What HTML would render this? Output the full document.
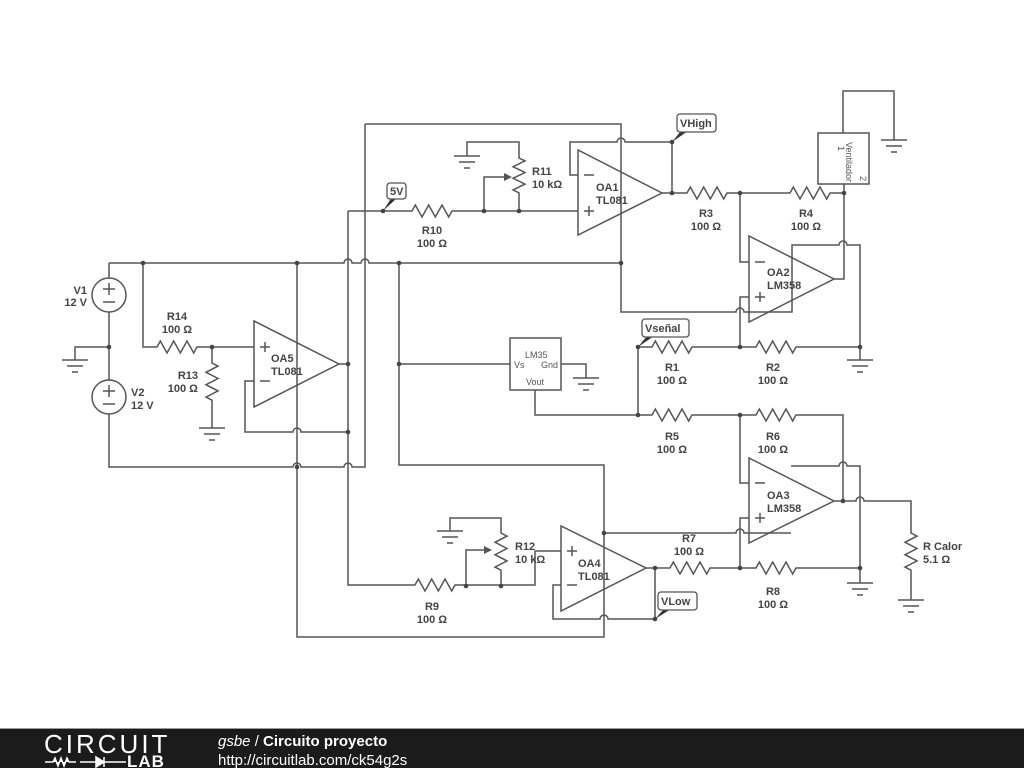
<!DOCTYPE html>
<html><head><meta charset="utf-8"><style>
body{margin:0;width:1024px;height:768px;overflow:hidden;background:#fff}
svg{display:block}
.w{fill:none;stroke:#555;stroke-width:1.5;stroke-linejoin:miter}
text{font-family:"Liberation Sans",sans-serif;font-size:11px;font-weight:bold;fill:#444}
.s{font-weight:normal;font-size:9px;fill:#555}
</style></head><body>
<svg width="1024" height="768" viewBox="0 0 1024 768">
<defs>
<g id="gnd"><path class="w" d="M-13 0H13M-8 6H8M-3 12H3"/></g>
</defs>
<g class="w">
<path d="M365 124H621V312H736a4 4 0 0 1 8 0H792V245H839a4 4 0 0 1 8 0H860V360"/>
<path d="M109 263H344a4 4 0 0 1 8 0H361a4 4 0 0 1 8 0H621"/>
<path d="M109 263V278M109 312V380M109 414V467H293a4 4 0 0 1 8 0H344a4 4 0 0 1 8 0H365V124"/>
<circle cx="109" cy="295" r="17"/><circle cx="109" cy="397" r="17"/>
<path d="M103 289h12M109 283v12M103 302h12M103 391h12M109 385v12M103 404h12"/>
<path d="M109 347H75V360"/>
<path d="M143 263V347H157l3.33 -6 l6.67 12 l6.67 -12 l6.67 12 l6.67 -12 l6.67 12 l3.33 -6H254"/>
<path d="M212 347V363l6 3.1 l-12 6.2 l12 6.2 l-12 6.2 l12 6.2 l-12 6.2 l6 3.1V428"/>
<path d="M254 321L254 407L339 364Z"/>
<path d="M260 347h10M265 342v10M260 381h10"/>
<path d="M254 381H245V432H293a4 4 0 0 1 8 0H348M339 364H348"/>
<path d="M348 211V585H415l3.33 -6 l6.67 12 l6.67 -12 l6.67 12 l6.67 -12 l6.67 12 l3.33 -6H535V551H561"/>
<path d="M348 211H412l3.33 -6 l6.67 12 l6.67 -12 l6.67 12 l6.67 -12 l6.67 12 l3.33 -6H578"/>
<path d="M297 263V637H604V465H399V263M399 364H510"/>
<path d="M467 156V142H519V158l6 2.9 l-12 5.8 l12 5.8 l-12 5.8 l12 5.8 l-12 5.8 l6 2.9V211"/>
<path d="M484 211V177H510"/>
<path d="M578 150L578 235L662 193Z"/>
<path d="M584 175h10M584 211h10M589 206v10"/>
<path d="M578 175H570V142H617a4 4 0 0 1 8 0H672V193"/>
<path d="M662 193H687l3.33 -6 l6.67 12 l6.67 -12 l6.67 12 l6.67 -12 l6.67 12 l3.33 -6H790l3.33 -6 l6.67 12 l6.67 -12 l6.67 12 l6.67 -12 l6.67 12 l3.33 -6H844V279H834M844 193V184"/>
<rect x="818" y="133" width="51" height="51"/>
<path d="M843 133V91H894V140"/>
<path d="M749 236L749 322L834 279Z"/>
<path d="M755 262h10M755 297h10M760 292v10"/>
<path d="M740 193V262H749M749 297H740V347"/>
<path d="M638 415V347H652l3.33 -6 l6.67 12 l6.67 -12 l6.67 12 l6.67 -12 l6.67 12 l3.33 -6H756l3.33 -6 l6.67 12 l6.67 -12 l6.67 12 l6.67 -12 l6.67 12 l3.33 -6H860"/>
<rect x="510" y="338" width="51" height="52"/>
<path d="M561 364H586V378"/>
<path d="M535 390V415H652l3.33 -6 l6.67 12 l6.67 -12 l6.67 12 l6.67 -12 l6.67 12 l3.33 -6H756l3.33 -6 l6.67 12 l6.67 -12 l6.67 12 l6.67 -12 l6.67 12 l3.33 -6H843V501"/>
<path d="M749 458L749 543L834 501Z"/>
<path d="M755 483h10M755 518h10M760 513v10"/>
<path d="M740 415V483H749M749 518H740V568"/>
<path d="M834 501H856a4 4 0 0 1 8 0H911V533l6 3.1 l-12 6.2 l12 6.2 l-12 6.2 l12 6.2 l-12 6.2 l6 3.1V600"/>
<path d="M791 466H839a4 4 0 0 1 8 0H860V583"/>
<path d="M604 533H736a4 4 0 0 1 8 0H791"/>
<path d="M561 526L561 611L646 568Z"/>
<path d="M567 551h10M572 546v10M567 585h10"/>
<path d="M646 568H670l3.33 -6 l6.67 12 l6.67 -12 l6.67 12 l6.67 -12 l6.67 12 l3.33 -6H756l3.33 -6 l6.67 12 l6.67 -12 l6.67 12 l6.67 -12 l6.67 12 l3.33 -6H860"/>
<path d="M561 585H553V619H600a4 4 0 0 1 8 0H655V568"/>
<path d="M450 531V518H501V533l6 3.1 l-12 6.2 l12 6.2 l-12 6.2 l12 6.2 l-12 6.2 l6 3.1V586"/>
<path d="M466 586V550H488"/>
</g>
<path d="M512 177l-8-4v8z" fill="#555"/>
<path d="M492 550l-8-4v8z" fill="#555"/>
<g fill="#444">
<circle cx="143" cy="263" r="2.3"/><circle cx="297" cy="263" r="2.3"/><circle cx="399" cy="263" r="2.3"/><circle cx="621" cy="263" r="2.3"/>
<circle cx="109" cy="347" r="2.3"/><circle cx="212" cy="347" r="2.3"/><circle cx="348" cy="364" r="2.3"/><circle cx="399" cy="364" r="2.3"/>
<circle cx="348" cy="432" r="2.3"/><circle cx="297" cy="467" r="2.3"/><circle cx="383" cy="211" r="2.3"/><circle cx="484" cy="211" r="2.3"/><circle cx="519" cy="211" r="2.3"/>
<circle cx="672" cy="142" r="2.3"/><circle cx="672" cy="193" r="2.3"/><circle cx="740" cy="193" r="2.3"/><circle cx="844" cy="193" r="2.3"/>
<circle cx="638" cy="347" r="2.3"/><circle cx="740" cy="347" r="2.3"/><circle cx="860" cy="347" r="2.3"/>
<circle cx="638" cy="415" r="2.3"/><circle cx="740" cy="415" r="2.3"/><circle cx="843" cy="501" r="2.3"/>
<circle cx="604" cy="533" r="2.3"/><circle cx="655" cy="568" r="2.3"/><circle cx="740" cy="568" r="2.3"/><circle cx="860" cy="568" r="2.3"/>
<circle cx="655" cy="619" r="2.3"/><circle cx="466" cy="586" r="2.3"/><circle cx="501" cy="586" r="2.3"/>
</g>
<use href="#gnd" x="75" y="360"/><use href="#gnd" x="212" y="428"/><use href="#gnd" x="467" y="156"/>
<use href="#gnd" x="894" y="140"/><use href="#gnd" x="860" y="360"/><use href="#gnd" x="586" y="378"/>
<use href="#gnd" x="860" y="583"/><use href="#gnd" x="911" y="600"/><use href="#gnd" x="450" y="531"/>
<g fill="#333">
<path d="M383 211L392 197L398 197Z"/><path d="M672 142L681 131L688 131Z"/>
<path d="M638 347L647 336L654 336Z"/><path d="M655 619L664 609L671 609Z"/>
</g>
<g fill="#fff" stroke="#555" stroke-width="1.3">
<rect x="387" y="183" width="19" height="16" rx="3"/><rect x="677" y="114" width="39" height="18" rx="3"/>
<rect x="642" y="319" width="47" height="18" rx="3"/><rect x="658" y="592" width="39" height="18" rx="3"/>
</g>
<text x="390" y="195">5V</text><text x="680" y="127">VHigh</text><text x="645" y="332">Vseñal</text><text x="661" y="605">VLow</text>
<g text-anchor="end"><text x="87" y="294">V1</text><text x="87" y="306">12 V</text>
<text x="198" y="379">R13</text><text x="198" y="392">100 Ω</text></g>
<text x="131" y="396">V2</text><text x="131" y="409">12 V</text>
<g text-anchor="middle">
<text x="177" y="320">R14</text><text x="177" y="333">100 Ω</text>
<text x="432" y="234">R10</text><text x="432" y="247">100 Ω</text>
<text x="706" y="217">R3</text><text x="706" y="230">100 Ω</text>
<text x="806" y="217">R4</text><text x="806" y="230">100 Ω</text>
<text x="672" y="371">R1</text><text x="672" y="384">100 Ω</text>
<text x="773" y="371">R2</text><text x="773" y="384">100 Ω</text>
<text x="672" y="440">R5</text><text x="672" y="453">100 Ω</text>
<text x="773" y="440">R6</text><text x="773" y="453">100 Ω</text>
<text x="689" y="542">R7</text><text x="689" y="555">100 Ω</text>
<text x="773" y="595">R8</text><text x="773" y="608">100 Ω</text>
<text x="432" y="610">R9</text><text x="432" y="623">100 Ω</text>
</g>
<text x="532" y="175">R11</text><text x="532" y="188">10 kΩ</text>
<text x="515" y="550">R12</text><text x="515" y="563">10 kΩ</text>
<text x="923" y="550">R Calor</text><text x="923" y="563">5.1 Ω</text>
<text x="596" y="191">OA1</text><text x="596" y="204">TL081</text>
<text x="767" y="276">OA2</text><text x="767" y="289">LM358</text>
<text x="767" y="499">OA3</text><text x="767" y="512">LM358</text>
<text x="578" y="567">OA4</text><text x="578" y="580">TL081</text>
<text x="271" y="362">OA5</text><text x="271" y="375">TL081</text>
<text class="s" x="525" y="358">LM35</text><text class="s" x="514" y="368">Vs</text><text class="s" x="541" y="368">Gnd</text><text class="s" x="526" y="385">Vout</text>
<text class="s" x="846" y="142" transform="rotate(90 846 142)">Ventilador</text>
<text class="s" x="838" y="146" transform="rotate(90 838 146)">1</text>
<text class="s" x="860" y="176" transform="rotate(90 860 176)">2</text>
<rect x="0" y="729" width="1024" height="39" fill="#1b1b1b"/>
<rect x="0" y="728" width="1024" height="1" fill="#999"/>
<text x="44" y="753" style="font-size:26px;font-weight:normal;fill:#fff;letter-spacing:3px">CIRCUIT</text>
<path d="M45 762h8l2-4 3 8 3-8 3 8 3-8 2 4h7M80 762h46M96 757v10l8-5zM104 757v10" stroke="#fff" stroke-width="1.5" fill="#fff"/>
<text x="127" y="767" style="font-size:17px;fill:#fff;letter-spacing:1px">LAB</text>
<text x="218" y="746" style="font-size:15px;font-weight:normal;fill:#fff"><tspan font-style="italic">gsbe</tspan> / <tspan font-weight="bold">Circuito proyecto</tspan></text>
<text x="218" y="765" style="font-size:15px;font-weight:normal;fill:#fff">http://circuitlab.com/ck54g2s</text>
</svg>
</body></html>
